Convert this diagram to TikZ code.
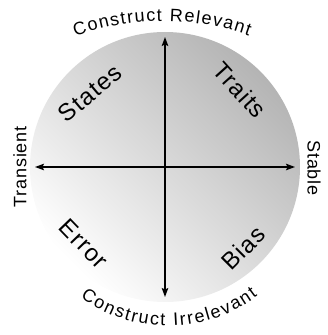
\documentclass[tikz,border=0pt]{standalone}
\usepackage{fontspec}
\setmainfont{Liberation Sans}
\newfontfamily\lblfont[LetterSpace=5]{Liberation Sans}
\usetikzlibrary{arrows.meta,decorations.text}
\definecolor{discdark}{RGB}{180,180,180}
\begin{document}
\begin{tikzpicture}[x=1pt,y=1pt,
  axis/.style={line width=1.5pt, {Stealth[length=9pt,width=6.5pt,inset=1.5pt]}-{Stealth[length=9pt,width=6.5pt,inset=1.5pt]}},
  quad/.style={font=\lblfont\fontsize{24}{24}\selectfont, inner sep=0pt},
  pole/.style={font=\lblfont\fontsize{18}{18}\selectfont, inner sep=0pt},
  disc/.style={circle, minimum size=270pt, inner sep=0pt, top color=discdark, bottom color=white, shading angle=-45}
]
\useasboundingbox (0,0) rectangle (327,335);
\node[disc] (disc) at (165,168) {};
\coordinate (N) at (165,298);
\coordinate (S) at (165,38);
\coordinate (W) at (35,168);
\coordinate (E) at (295,168);
\draw[axis] (W) -- (E);
\draw[axis] (S) -- (N);
\node[quad, rotate=40] (states) at (90,242) {States};
\node[quad, rotate=-48] (traits) at (240,245) {Traits};
\node[quad, rotate=-46] (error) at (84,91) {Error};
\node[quad, rotate=45] (bias) at (243,87) {Bias};
\node[pole, rotate=90] (transient) at (20,168) {Transient};
\node[pole, rotate=-90] (stable) at (314,167) {Stable};
\path[decorate, decoration={text along path, text align=fit to path,
  text={|\fontsize{18}{18}\selectfont|Construct Relevant}}]
  (163,58) ++(110:256) arc[start angle=110, end angle=70.4, radius=256];
\path[decorate, decoration={text along path, text align=fit to path,
  text={|\fontsize{18}{18}\selectfont|Construct Irrelevant}}]
  (168,157) ++(233.7:148) arc[start angle=233.7, end angle=307.3, radius=148];
\end{tikzpicture}
\end{document}
